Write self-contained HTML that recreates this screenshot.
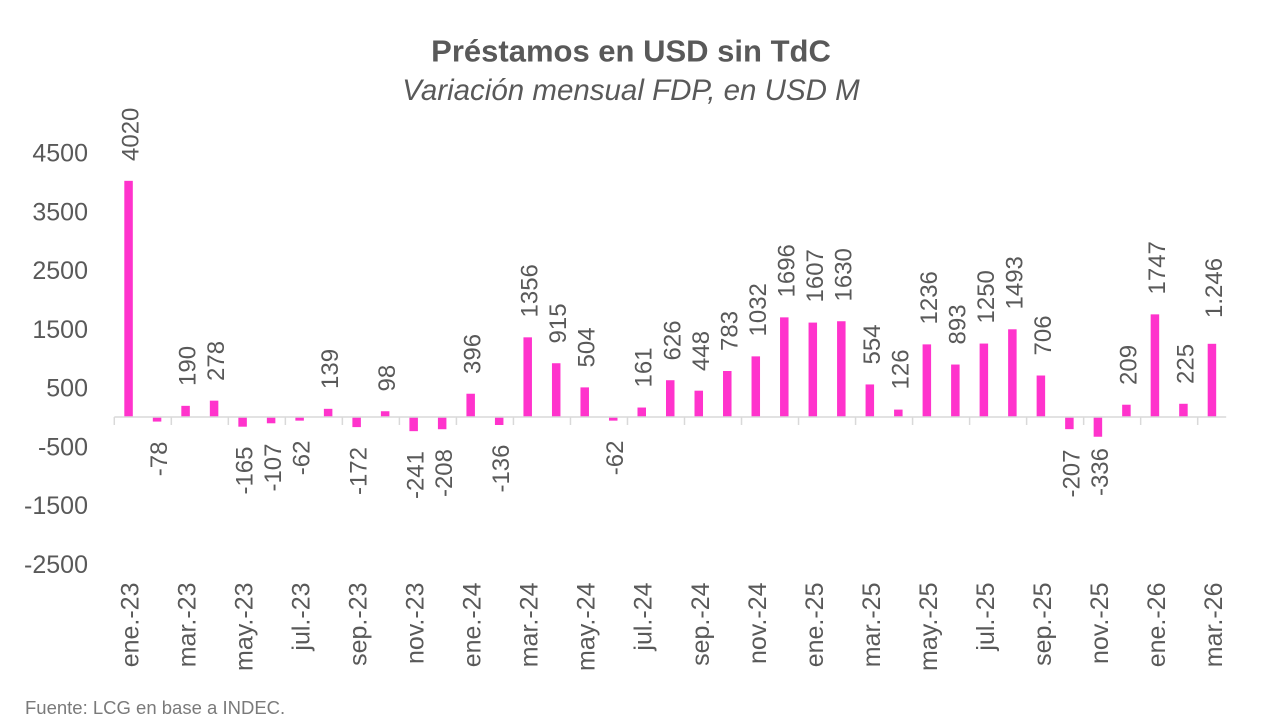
<!DOCTYPE html>
<html><head><meta charset="utf-8"><style>
html,body{margin:0;padding:0;background:#fff;}
svg{display:block;}
text{font-family:"Liberation Sans",Arial,sans-serif;fill:#595959;}
</style></head><body>
<svg width="1262" height="720" viewBox="0 0 1262 720" xmlns="http://www.w3.org/2000/svg">
<rect width="1262" height="720" fill="#fff"/>
<text x="631" y="61.5" text-anchor="middle" font-size="31" font-weight="bold">Préstamos en USD sin TdC</text>
<text x="631" y="100" text-anchor="middle" font-size="29.5" font-style="italic">Variación mensual FDP, en USD M</text>

<g font-size="25" text-anchor="end">
<text x="88" y="161.5">4500</text>
<text x="88" y="220.3">3500</text>
<text x="88" y="279">2500</text>
<text x="88" y="337.8">1500</text>
<text x="88" y="396.5">500</text>
<text x="88" y="455.3">-500</text>
<text x="88" y="514">-1500</text>
<text x="88" y="572.8">-2500</text>
</g>

<g fill="#FF33CC">
<rect x="124.31" y="180.82" width="8.5" height="236.18"/>
<rect x="152.82" y="417" width="8.5" height="4.58"/>
<rect x="181.33" y="405.84" width="8.5" height="11.16"/>
<rect x="209.84" y="400.67" width="8.5" height="16.33"/>
<rect x="238.35" y="417" width="8.5" height="9.69"/>
<rect x="266.86" y="417" width="8.5" height="6.29"/>
<rect x="295.37" y="417" width="8.5" height="3.64"/>
<rect x="323.88" y="408.83" width="8.5" height="8.17"/>
<rect x="352.39" y="417" width="8.5" height="10.11"/>
<rect x="380.90" y="411.24" width="8.5" height="5.76"/>
<rect x="409.41" y="417" width="8.5" height="14.16"/>
<rect x="437.92" y="417" width="8.5" height="12.22"/>
<rect x="466.43" y="393.73" width="8.5" height="23.27"/>
<rect x="494.94" y="417" width="8.5" height="7.99"/>
<rect x="523.45" y="337.33" width="8.5" height="79.67"/>
<rect x="551.96" y="363.24" width="8.5" height="53.76"/>
<rect x="580.47" y="387.39" width="8.5" height="29.61"/>
<rect x="608.98" y="417" width="8.5" height="3.64"/>
<rect x="637.49" y="407.54" width="8.5" height="9.46"/>
<rect x="666.00" y="380.22" width="8.5" height="36.78"/>
<rect x="694.51" y="390.68" width="8.5" height="26.32"/>
<rect x="723.02" y="371.00" width="8.5" height="46.00"/>
<rect x="751.53" y="356.37" width="8.5" height="60.63"/>
<rect x="780.04" y="317.36" width="8.5" height="99.64"/>
<rect x="808.55" y="322.59" width="8.5" height="94.41"/>
<rect x="837.06" y="321.24" width="8.5" height="95.76"/>
<rect x="865.57" y="384.45" width="8.5" height="32.55"/>
<rect x="894.08" y="409.60" width="8.5" height="7.40"/>
<rect x="922.59" y="344.38" width="8.5" height="72.62"/>
<rect x="951.10" y="364.54" width="8.5" height="52.46"/>
<rect x="979.61" y="343.56" width="8.5" height="73.44"/>
<rect x="1008.12" y="329.29" width="8.5" height="87.71"/>
<rect x="1036.63" y="375.52" width="8.5" height="41.48"/>
<rect x="1065.14" y="417" width="8.5" height="12.16"/>
<rect x="1093.65" y="417" width="8.5" height="19.74"/>
<rect x="1122.16" y="404.72" width="8.5" height="12.28"/>
<rect x="1150.67" y="314.36" width="8.5" height="102.64"/>
<rect x="1179.18" y="403.78" width="8.5" height="13.22"/>
<rect x="1207.69" y="343.80" width="8.5" height="73.20"/>
</g>

<g stroke="#d9d9d9" stroke-width="1.5" fill="none">
<line x1="114.3" y1="417" x2="1226.2" y2="417"/>
<path d="M114.3 417v8M171.32 417v8M228.34 417v8M285.36 417v8M342.38 417v8M399.4 417v8M456.42 417v8M513.44 417v8M570.46 417v8M627.48 417v8M684.5 417v8M741.52 417v8M798.54 417v8M855.56 417v8M912.58 417v8M969.6 417v8M1026.62 417v8M1083.64 417v8M1140.66 417v8M1197.68 417v8"/>
</g>

<g font-size="24">
<text transform="translate(128.56,161) rotate(-90)" y="10">4020</text>
<text transform="translate(185.58,386) rotate(-90)" y="10">190</text>
<text transform="translate(214.09,381) rotate(-90)" y="10">278</text>
<text transform="translate(328.13,389) rotate(-90)" y="10">139</text>
<text transform="translate(385.15,391.5) rotate(-90)" y="10">98</text>
<text transform="translate(470.68,374) rotate(-90)" y="10">396</text>
<text transform="translate(527.70,317.5) rotate(-90)" y="10">1356</text>
<text transform="translate(556.21,343.5) rotate(-90)" y="10">915</text>
<text transform="translate(584.72,367.5) rotate(-90)" y="10">504</text>
<text transform="translate(641.74,387.5) rotate(-90)" y="10">161</text>
<text transform="translate(670.25,360.5) rotate(-90)" y="10">626</text>
<text transform="translate(698.76,371) rotate(-90)" y="10">448</text>
<text transform="translate(727.27,351) rotate(-90)" y="10">783</text>
<text transform="translate(755.78,336.5) rotate(-90)" y="10">1032</text>
<text transform="translate(784.29,297.5) rotate(-90)" y="10">1696</text>
<text transform="translate(812.80,302.5) rotate(-90)" y="10">1607</text>
<text transform="translate(841.31,301.5) rotate(-90)" y="10">1630</text>
<text transform="translate(869.82,364.5) rotate(-90)" y="10">554</text>
<text transform="translate(898.33,389.5) rotate(-90)" y="10">126</text>
<text transform="translate(926.84,324.5) rotate(-90)" y="10">1236</text>
<text transform="translate(955.35,344.5) rotate(-90)" y="10">893</text>
<text transform="translate(983.86,323.5) rotate(-90)" y="10">1250</text>
<text transform="translate(1012.37,309.5) rotate(-90)" y="10">1493</text>
<text transform="translate(1040.88,355.5) rotate(-90)" y="10">706</text>
<text transform="translate(1126.41,385) rotate(-90)" y="10">209</text>
<text transform="translate(1154.92,294.5) rotate(-90)" y="10">1747</text>
<text transform="translate(1183.43,384) rotate(-90)" y="10">225</text>
<text transform="translate(1211.94,318) rotate(-90)" y="10">1.246</text>
</g>
<g font-size="24" text-anchor="end">
<text transform="translate(157.07,441.5) rotate(-90)" y="10">-78</text>
<text transform="translate(242.60,446.5) rotate(-90)" y="10">-165</text>
<text transform="translate(271.11,443.5) rotate(-90)" y="10">-107</text>
<text transform="translate(299.62,440.5) rotate(-90)" y="10">-62</text>
<text transform="translate(356.64,447) rotate(-90)" y="10">-172</text>
<text transform="translate(413.66,451) rotate(-90)" y="10">-241</text>
<text transform="translate(442.17,449) rotate(-90)" y="10">-208</text>
<text transform="translate(499.19,444.5) rotate(-90)" y="10">-136</text>
<text transform="translate(613.23,440.5) rotate(-90)" y="10">-62</text>
<text transform="translate(1069.39,449.5) rotate(-90)" y="10">-207</text>
<text transform="translate(1097.90,448) rotate(-90)" y="10">-336</text>
</g>

<g font-size="25" text-anchor="end">
<text transform="translate(128.56,582.5) rotate(-90)" y="10">ene.-23</text>
<text transform="translate(185.58,582.5) rotate(-90)" y="10">mar.-23</text>
<text transform="translate(242.60,582.5) rotate(-90)" y="10">may.-23</text>
<text transform="translate(299.62,582.5) rotate(-90)" y="10">jul.-23</text>
<text transform="translate(356.64,582.5) rotate(-90)" y="10">sep.-23</text>
<text transform="translate(413.66,582.5) rotate(-90)" y="10">nov.-23</text>
<text transform="translate(470.68,582.5) rotate(-90)" y="10">ene.-24</text>
<text transform="translate(527.70,582.5) rotate(-90)" y="10">mar.-24</text>
<text transform="translate(584.72,582.5) rotate(-90)" y="10">may.-24</text>
<text transform="translate(641.74,582.5) rotate(-90)" y="10">jul.-24</text>
<text transform="translate(698.76,582.5) rotate(-90)" y="10">sep.-24</text>
<text transform="translate(755.78,582.5) rotate(-90)" y="10">nov.-24</text>
<text transform="translate(812.80,582.5) rotate(-90)" y="10">ene.-25</text>
<text transform="translate(869.82,582.5) rotate(-90)" y="10">mar.-25</text>
<text transform="translate(926.84,582.5) rotate(-90)" y="10">may.-25</text>
<text transform="translate(983.86,582.5) rotate(-90)" y="10">jul.-25</text>
<text transform="translate(1040.88,582.5) rotate(-90)" y="10">sep.-25</text>
<text transform="translate(1097.90,582.5) rotate(-90)" y="10">nov.-25</text>
<text transform="translate(1154.92,582.5) rotate(-90)" y="10">ene.-26</text>
<text transform="translate(1211.94,582.5) rotate(-90)" y="10">mar.-26</text>
</g>

<text x="25" y="714" font-size="18.5" style="fill:#7a7a7a">Fuente: LCG en base a INDEC.</text>
</svg>
</body></html>
